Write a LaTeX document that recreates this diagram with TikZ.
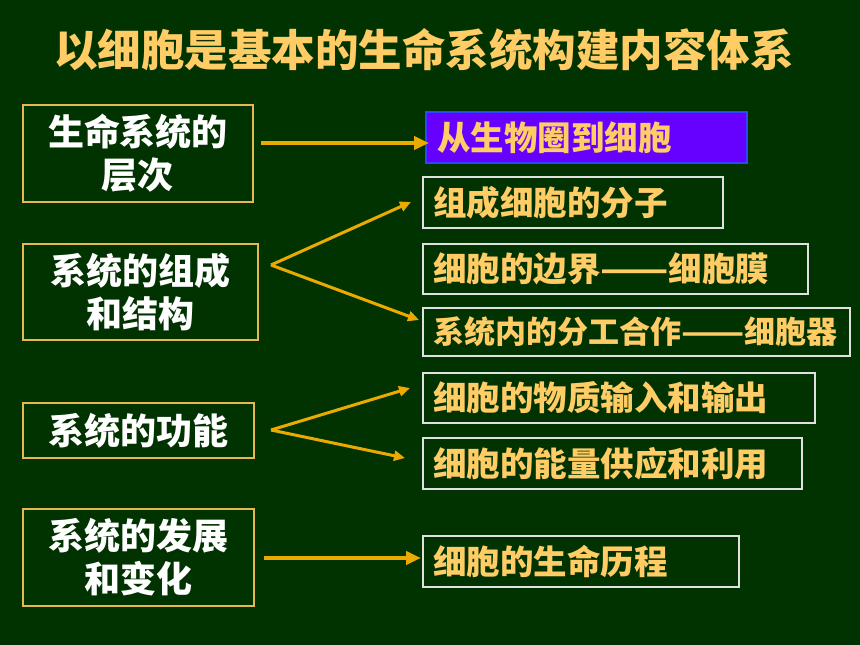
\documentclass[tikz,border=0pt]{standalone}
\usepackage{fontspec}
\usepackage{graphicx}
\newfontfamily\cjk{Noto Sans CJK SC}
\usetikzlibrary{arrows.meta}
\definecolor{bg}{RGB}{0,51,0}
\definecolor{ttl}{RGB}{255,204,102}
\definecolor{arr}{RGB}{234,170,0}
\definecolor{lborder}{RGB}{232,184,80}
\definecolor{rborder}{RGB}{225,225,225}
\definecolor{purp}{RGB}{102,0,255}
\definecolor{purpb}{RGB}{51,68,255}
\newcommand{\widedash}{\scalebox{1.19}[1]{——}}
\tikzset{
  lbox/.style={draw=lborder, line width=2pt, text=white, align=center, inner sep=0pt,
     font=\cjk\bfseries\fontsize{36pt}{43pt}\selectfont},
  rbox/.style={draw=rborder, line width=2pt, text=ttl, align=left, inner xsep=10pt, inner ysep=0pt,
     font=\cjk\bfseries\fontsize{33.5pt}{40pt}\selectfont},
  thickarr/.style={draw=arr, line width=4pt, -{Triangle[length=15pt,width=13pt]}},
  thinarr/.style={draw=arr, line width=3pt, -{Triangle[length=11pt,width=10pt]}},
}
\begin{document}
\begin{tikzpicture}[x=1pt,y=-1pt]
\fill[bg] (0,0) rectangle (860,645);
\useasboundingbox (0,0) rectangle (860,645);
\node[text=ttl, font=\cjk\bfseries\fontsize{43.5pt}{50pt}\selectfont, inner sep=0pt] (title) at (424,50) {以细胞是基本的生命系统构建内容体系};
% left boxes
\node[lbox, minimum width=230pt, minimum height=97pt] (l1) at (138,153.5) {生命系统的\\层次};
\node[lbox, minimum width=235pt, minimum height=96pt] (l2) at (140.5,292) {系统的组成\\和结构};
\node[lbox, minimum width=231pt, minimum height=55pt] (l3) at (138.5,430.5) {系统的功能};
\node[lbox, minimum width=231pt, minimum height=97pt] (l4) at (138.5,557.5) {系统的发展\\和变化};
% right boxes
\node[rbox, fill=purp, draw=purpb, text width=299pt, inner xsep=11pt, minimum height=51pt] (r1) at (586.5,137.5) {从生物圈到细胞};
\node[rbox, text width=280pt, minimum height=51pt] (r2) at (573,202.5) {组成细胞的分子};
\node[rbox, text width=365pt, minimum height=50pt] (r3) at (615.5,269) {细胞的边界\widedash 细胞膜};
\node[rbox, text width=407pt, minimum height=48pt, font=\cjk\bfseries\fontsize{31pt}{38pt}\selectfont] (r4) at (636.5,332) {系统内的分工合作\widedash 细胞器};
\node[rbox, text width=372pt, minimum height=50pt] (r5) at (619,398) {细胞的物质输入和输出};
\node[rbox, text width=359pt, minimum height=51pt] (r6) at (612.5,463.5) {细胞的能量供应和利用};
\node[rbox, text width=296pt, minimum height=51pt] (r7) at (581,561.5) {细胞的生命历程};
% arrows
\coordinate (a1) at (261,143);
\coordinate (a2) at (271,265);
\coordinate (a3) at (271,430);
\coordinate (a4) at (264,558);
\draw[thickarr] (a1) -- ([xshift=4pt]r1.west |- a1);
\draw[thinarr] (a2) -- ([shift={(-11,-0.5)}]r2.west);
\draw[thinarr] (a2) -- ([shift={(-3,-12)}]r4.west);
\draw[thinarr] (a3) -- ([shift={(-12,-10)}]r5.west);
\draw[thinarr] (a3) -- ([shift={(-17,-5.5)}]r6.west);
\draw[thickarr] (a4) -- ([xshift=-1pt]r7.west |- a4);
\end{tikzpicture}
\end{document}
